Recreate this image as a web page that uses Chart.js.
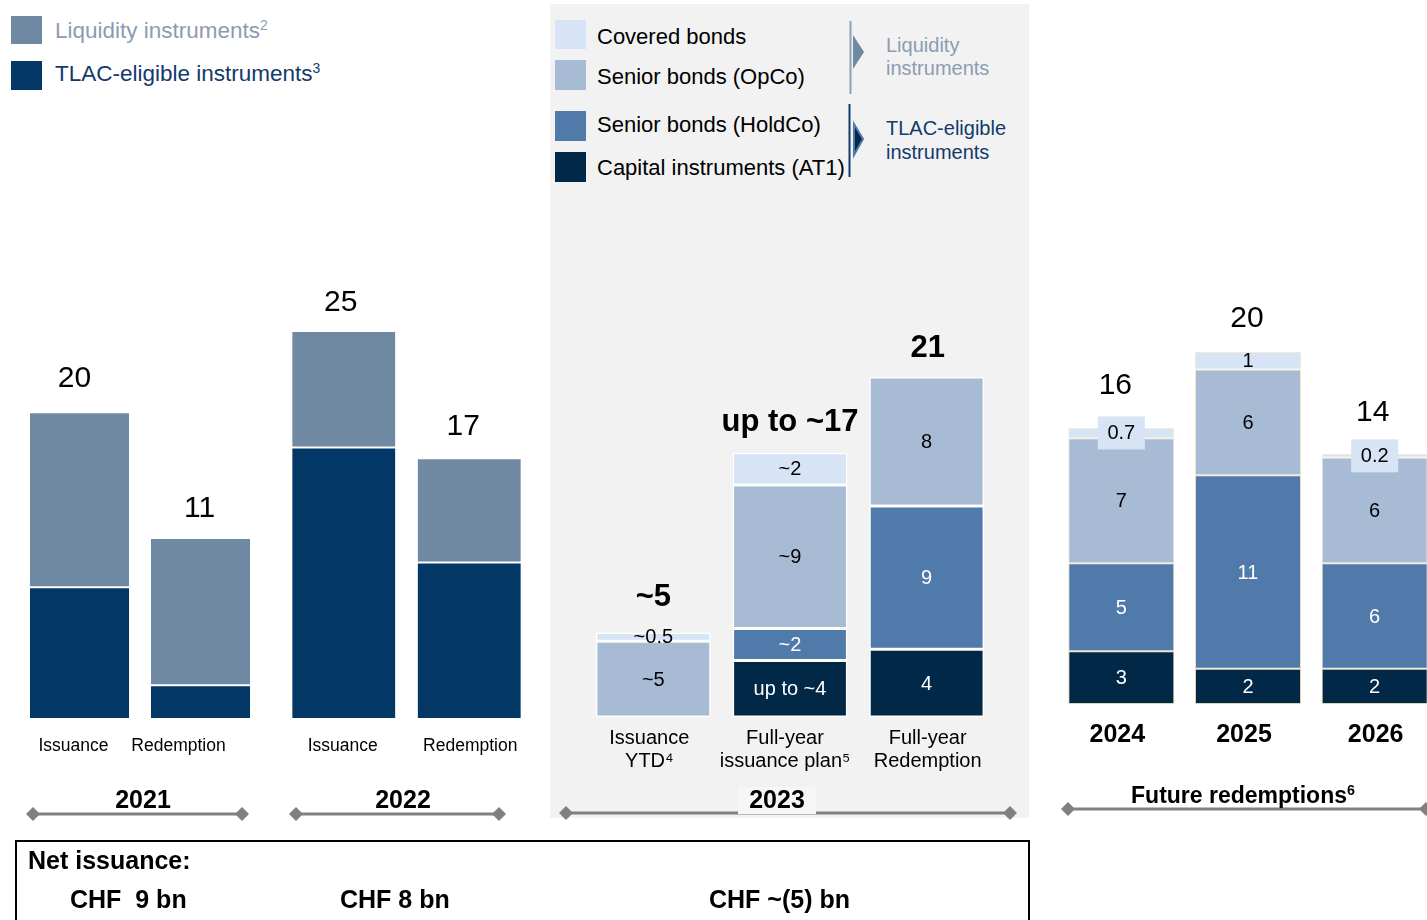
<!DOCTYPE html>
<html>
<head>
<meta charset="utf-8">
<script src="https://cdn.jsdelivr.net/npm/chart.js@4.4.0/dist/chart.umd.min.js"></script>
<style>
  html, body { margin: 0; padding: 0; width: 1427px; height: 920px; overflow: hidden; background: #fff;
    font-family: "Liberation Sans", Arial, Helvetica, sans-serif; }
  .abs { position: absolute; }
  .t { position: absolute; white-space: pre; line-height: 1; }
  .c { text-align: center; }
  .b { font-weight: bold; }
  .sup { font-size: 0.62em; vertical-align: 0.55em; line-height: 0; }
</style>
</head>
<body>
<!-- 2023 panel -->
<div class="abs" style="left:550px;top:4px;width:479px;height:814px;background:#f2f2f2"></div>

<!-- top-left legend -->
<div class="abs" style="left:11px;top:16px;width:31px;height:28px;background:#7089a3"></div>
<div class="abs" style="left:11px;top:61px;width:31px;height:29px;background:#033766"></div>
<div class="t" style="left:55px;top:20px;font-size:22.5px;color:#8c9cb1">Liquidity instruments<span class="sup">2</span></div>
<div class="t" style="left:55px;top:63px;font-size:22.5px;color:#123a6b">TLAC-eligible instruments<span class="sup">3</span></div>

<!-- panel legend -->
<div class="abs" style="left:555px;top:20px;width:31px;height:29px;background:#d7e4f5"></div>
<div class="abs" style="left:555px;top:60px;width:31px;height:30px;background:#a8bbd5"></div>
<div class="abs" style="left:555px;top:111px;width:31px;height:30px;background:#4f7aaa"></div>
<div class="abs" style="left:555px;top:152px;width:31px;height:30px;background:#022848"></div>
<div class="t" style="left:597px;top:26px;font-size:22px;color:#000">Covered bonds</div>
<div class="t" style="left:597px;top:66px;font-size:22px;color:#000">Senior bonds (OpCo)</div>
<div class="t" style="left:597px;top:114px;font-size:22px;color:#000">Senior bonds (HoldCo)</div>
<div class="t" style="left:597px;top:157px;font-size:22px;color:#000">Capital instruments (AT1)</div>
<div class="t" style="left:886px;top:35px;font-size:20px;color:#8c9cb1">Liquidity</div>
<div class="t" style="left:886px;top:58px;font-size:20px;color:#8c9cb1">instruments</div>
<div class="t" style="left:886px;top:118px;font-size:20px;color:#123a6b">TLAC-eligible</div>
<div class="t" style="left:886px;top:142px;font-size:20px;color:#123a6b">instruments</div>

<!-- charts -->
<div class="abs" style="left:19px;top:259px;width:242px;height:500px"><canvas id="c2021"></canvas></div>
<div class="abs" style="left:281px;top:259px;width:251px;height:500px"><canvas id="c2022"></canvas></div>
<div class="abs" style="left:585px;top:282px;width:410px;height:495px"><canvas id="c2023"></canvas></div>
<div class="abs" style="left:1058px;top:264px;width:380px;height:480px"><canvas id="cFuture"></canvas></div>

<!-- brackets and legend markers -->
<svg class="abs" style="left:0;top:0" width="1427" height="920">
  <g stroke="#808080" stroke-width="3">
    <line x1="33" y1="814" x2="242" y2="814"/>
    <line x1="296" y1="814" x2="499" y2="814"/>
    <line x1="566" y1="813" x2="1010" y2="813"/>
    <line x1="1068" y1="809" x2="1426" y2="809"/>
  </g>
  <g fill="#808080">
    <polygon points="26,814 33,807 40,814 33,821"/>
    <polygon points="235,814 242,807 249,814 242,821"/>
    <polygon points="289,814 296,807 303,814 296,821"/>
    <polygon points="492,814 499,807 506,814 499,821"/>
    <polygon points="559,813 566,806 573,813 566,820"/>
    <polygon points="1003,813 1010,806 1017,813 1010,820"/>
    <polygon points="1061,809 1068,802 1075,809 1068,816"/>
    <polygon points="1419,809 1426,802 1433,809 1426,816"/>
  </g>
  <line x1="850.5" y1="21" x2="850.5" y2="94" stroke="#8fa2ba" stroke-width="2"/>
  <line x1="849.5" y1="104" x2="849.5" y2="177" stroke="#123a6b" stroke-width="2"/>
  <polygon points="853,35 864,52 853,69" fill="#7089a3"/>
  <polygon points="854,124 863,139 854,155" fill="#022848" stroke="#4f7aaa" stroke-width="2"/>
</svg>

<!-- group titles -->
<div class="t c b" style="left:83px;top:787px;width:120px;font-size:25px">2021</div>
<div class="t c b" style="left:343px;top:787px;width:120px;font-size:25px">2022</div>
<div class="abs" style="left:738px;top:787px;width:78px;height:27px;background:#f6f6f6"></div>
<div class="t c b" style="left:717px;top:787px;width:120px;font-size:25px">2023</div>
<div class="t c b" style="left:1093px;top:784px;width:300px;font-size:23px">Future redemptions<span class="sup">6</span></div>

<!-- net issuance box -->
<div class="abs" style="left:15px;top:840px;width:1015px;height:100px;border:2px solid #000;box-sizing:border-box"></div>
<div class="t b" style="left:28px;top:848px;font-size:25px">Net issuance:</div>
<div class="t b" style="left:70px;top:887px;font-size:25px">CHF  9 bn</div>
<div class="t b" style="left:340px;top:887px;font-size:25px">CHF 8 bn</div>
<div class="t b" style="left:709px;top:887px;font-size:25px">CHF ~(5) bn</div>

<script>
/* global Chart */

// 2021 / 2022 (CHF bn)
const cat2021 = ["Issuance", "Redemption"];
const liq2021 = [11.4, 9.6];
const tlac2021 = [8.6, 2.2];
const tot2021 = ["20", "11"];

const cat2022 = ["Issuance", "Redemption"];
const liq2022 = [7.6, 6.8];
const tlac2022 = [17.7, 10.2];
const tot2022 = ["25", "17"];

// 2023
const cat2023 = [["Issuance", "YTD⁴"], ["Full-year", "issuance plan⁵"], ["Full-year", "Redemption"]];
const covered2023 = [0.55, 2.0, 0];
const opco2023 = [4.7, 8.9, 8.0];
const holdco2023 = [0, 2.0, 8.9];
const at12023 = [0, 3.5, 4.2];
const covered2023Txt = ["~0.5", "~2", ""];
const opco2023Txt = ["~5", "~9", "8"];
const holdco2023Txt = ["", "~2", "9"];
const at12023Txt = ["", "up to ~4", "4"];
const tot2023 = ["~5", "up to ~17", "21"];

// future redemptions
const catFuture = ["2024", "2025", "2026"];
const coveredFuture = [0.6, 1.0, 0.2];
const opcoFuture = [7.1, 6.0, 6.0];
const holdcoFuture = [5.0, 11.0, 6.0];
const at1Future = [3.0, 2.0, 2.0];
const coveredFutureTxt = ["0.7", "1", "0.2"];
const opcoFutureTxt = ["7", "6", "6"];
const holdcoFutureTxt = ["5", "11", "6"];
const at1FutureTxt = ["3", "2", "2"];
const totFuture = ["16", "20", "14"];

const FONT = '"Liberation Sans", Arial, Helvetica, sans-serif';
const C_LIQ = "#7089a3";
const C_TLAC = "#033766";
const C_COV = "#d7e4f5";
const C_OPCO = "#a8bbd5";
const C_HOLD = "#4f7aaa";
const C_AT1 = "#022848";

// draws segment values, totals on top and category names below
const barText = {
  id: "barText",
  afterDatasetsDraw(chart, args, opts) {
    const ctx = chart.ctx;
    const bottom = chart.scales.y.getPixelForValue(0);
    ctx.save();
    ctx.textAlign = "center";
    ctx.textBaseline = "middle";
    chart.data.labels.forEach((label, i) => {
      let top = bottom;
      let x = 0;
      chart.data.datasets.forEach((ds, di) => {
        const el = chart.getDatasetMeta(di).data[i];
        x = el.x;
        top = Math.min(top, el.y);
        const txt = ds.segText ? ds.segText[i] : "";
        if (!txt) return;
        const cy = (el.y + el.base) / 2;
        if (ds.segBox && ds.segBox[i]) {
          ctx.fillStyle = ds.segBox[i];
          ctx.fillRect(x - 23.5, cy - 16.5, 47, 33);
        }
        ctx.font = opts.segFont;
        ctx.fillStyle = ds.segColor || "#000";
        ctx.fillText(txt, x, cy + 1);
      });
      ctx.fillStyle = "#000";
      ctx.font = opts.totalFont;
      ctx.fillText(opts.totals[i], x + opts.totalShift[i], top - opts.totalGap[i]);
      const lines = Array.isArray(label) ? label : [label];
      ctx.font = opts.catFont;
      lines.forEach((ln, li) => {
        ctx.fillText(ln, x + opts.catShift[i], bottom + opts.catGap + li * opts.catLineH);
      });
    });
    ctx.restore();
  },
};

function ds(data, color, border, bw, extra) {
  return Object.assign(
    { data, backgroundColor: color, borderColor: border, borderWidth: bw, borderSkipped: false },
    extra || {}
  );
}

function makeChart(id, labels, datasets, maxY, barPct, padBottom, textOpts) {
  return new Chart(document.getElementById(id), {
    type: "bar",
    data: { labels, datasets },
    options: {
      responsive: true,
      maintainAspectRatio: false,
      animation: false,
      layout: { padding: { top: 0, left: 0, right: 0, bottom: padBottom } },
      datasets: { bar: { categoryPercentage: 1, barPercentage: barPct } },
      plugins: { legend: { display: false }, tooltip: { enabled: false }, barText: textOpts },
      scales: {
        x: { display: false, stacked: true },
        y: { display: false, stacked: true, min: 0, max: maxY },
      },
    },
    plugins: [barText],
  });
}

const histText = {
  segFont: `20px ${FONT}`,
  totalFont: `30px ${FONT}`,
  catFont: `17.5px ${FONT}`,
  catGap: 27,
  catLineH: 20,
};

makeChart(
  "c2021",
  cat2021,
  [ds(tlac2021, C_TLAC, "#fff", 1), ds(liq2021, C_LIQ, "#fff", 1)],
  30, 0.835, 40,
  Object.assign({}, histText, { totals: tot2021, totalGap: [34, 29], totalShift: [-5, -1], catShift: [-6, -22] })
);

makeChart(
  "c2022",
  cat2022,
  [ds(tlac2022, C_TLAC, "#fff", 1), ds(liq2022, C_LIQ, "#fff", 1)],
  30, 0.835, 40,
  Object.assign({}, histText, { totals: tot2022, totalGap: [28, 32], totalShift: [-3, -6], catShift: [-1, 1] })
);

makeChart(
  "c2023",
  cat2023,
  [
    ds(at12023, C_AT1, "#fff", 1.5, { segText: at12023Txt, segColor: "#fff" }),
    ds(holdco2023, C_HOLD, "#fff", 1.5, { segText: holdco2023Txt, segColor: "#fff" }),
    ds(opco2023, C_OPCO, "#fff", 1.5, { segText: opco2023Txt, segColor: "#000" }),
    ds(covered2023, C_COV, "#fff", 1.5, { segText: covered2023Txt, segColor: "#000" }),
  ],
  27, 0.84, 60,
  {
    segFont: `20px ${FONT}`,
    totals: tot2023,
    totalFont: `bold 31px ${FONT}`,
    totalGap: [35, 30, 29],
    totalShift: [0, 0, 1],
    catFont: `20px ${FONT}`,
    catGap: 21,
    catLineH: 23,
    catShift: [-4, -5, 1],
  }
);

makeChart(
  "cFuture",
  catFuture,
  [
    ds(at1Future, C_AT1, "#e3d3ad", 1, { segText: at1FutureTxt, segColor: "#fff" }),
    ds(holdcoFuture, C_HOLD, "#eadfc4", 1, { segText: holdcoFutureTxt, segColor: "#fff" }),
    ds(opcoFuture, C_OPCO, "#f0e6d0", 1, { segText: opcoFutureTxt, segColor: "#000" }),
    ds(coveredFuture, C_COV, "#f3ead6", 1, {
      segText: coveredFutureTxt,
      segColor: "#000",
      segBox: [C_COV, null, C_COV],
    }),
  ],
  25, 0.837, 40,
  {
    segFont: `20px ${FONT}`,
    totals: totFuture,
    totalFont: `30px ${FONT}`,
    totalGap: [42, 33, 41],
    totalShift: [-6, -1, -2],
    catFont: `bold 25px ${FONT}`,
    catGap: 31,
    catLineH: 25,
    catShift: [-4, -4, 1],
  }
);
</script>
</body>
</html>
